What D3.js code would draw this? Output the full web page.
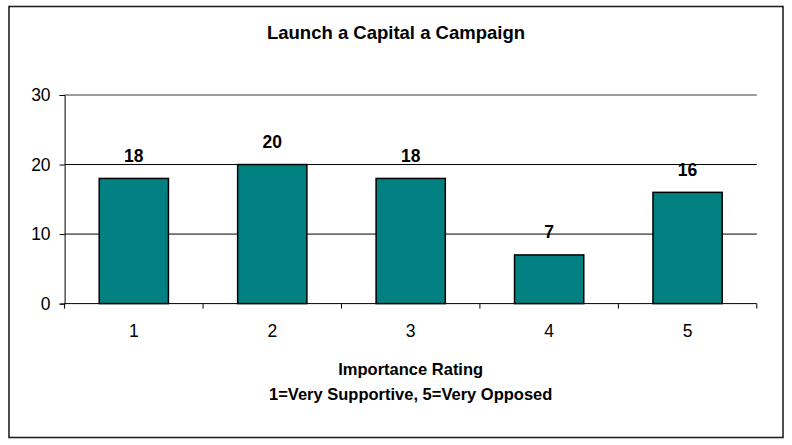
<!DOCTYPE html>
<html>
<head>
<meta charset="utf-8">
<script src="https://cdn.jsdelivr.net/npm/d3@7"></script>
<style>
  html, body { margin: 0; padding: 0; background: #fff; }
  svg { display: block; font-family: "Liberation Sans", Arial, sans-serif; }
</style>
</head>
<body>
<svg id="chart" width="792" height="445"></svg>
<script>
const categories = ["1", "2", "3", "4", "5"];
const values = [18, 20, 18, 7, 16];
const yTicks = [0, 10, 20, 30];
const titleText = "Launch a Capital a Campaign";
const xTitleLines = ["Importance Rating", "1=Very Supportive, 5=Very Opposed"];

const svg = d3.select("#chart");
const plot = { left: 64.6, right: 756.8, top: 95, bottom: 303.6 };

svg.append("rect")
  .attr("x", 9).attr("y", 6.5).attr("width", 774).attr("height", 431)
  .attr("fill", "#fff").attr("stroke", "#222").attr("stroke-width", 1.6);

const x = d3.scaleBand().domain(categories).range([plot.left, plot.right]).paddingInner(0.5).paddingOuter(0.25);
const xb = d3.scaleBand().domain(categories).range([plot.left, plot.right]).padding(0);
const y = d3.scaleLinear().domain([0, 30]).range([plot.bottom, plot.top]);

// gridlines
svg.append("g").selectAll("line").data(yTicks.filter(d => d > 0)).join("line")
  .attr("x1", plot.left).attr("x2", plot.right)
  .attr("y1", d => y(d)).attr("y2", d => y(d))
  .attr("stroke", d => d === 30 ? "#7a7a7a" : "#000")
  .attr("stroke-width", d => d === 30 ? 1.5 : 1);

// bars
svg.append("g").selectAll("rect").data(values).join("rect")
  .attr("x", (d, i) => x(categories[i]))
  .attr("y", d => y(d))
  .attr("width", x.bandwidth())
  .attr("height", d => y(0) - y(d))
  .attr("fill", "#008080")
  .attr("stroke", "#000").attr("stroke-width", 1.5);

// y axis
const yAxis = d3.axisLeft(y).tickValues(yTicks).tickSize(5).tickPadding(9);
const gy = svg.append("g").attr("transform", `translate(${plot.left},0)`).call(yAxis);
gy.select(".domain").attr("stroke", "#000");
gy.selectAll(".tick line").attr("stroke", "#000");
gy.selectAll(".tick text").attr("font-size", 17.5).attr("fill", "#000")
  .attr("font-family", "Liberation Sans, Arial, sans-serif");

// x axis: line + boundary ticks
svg.append("line").attr("x1", plot.left).attr("x2", plot.right)
  .attr("y1", plot.bottom).attr("y2", plot.bottom).attr("stroke", "#000").attr("stroke-width", 1);
const bounds = categories.map(c => xb(c)).concat([plot.right]);
svg.append("g").selectAll("line").data(bounds).join("line")
  .attr("x1", d => d).attr("x2", d => d)
  .attr("y1", plot.bottom).attr("y2", plot.bottom + 5)
  .attr("stroke", "#000");
svg.append("g").selectAll("text").data(categories).join("text")
  .attr("x", d => xb(d) + xb.bandwidth() / 2)
  .attr("y", 337)
  .attr("text-anchor", "middle")
  .attr("font-size", 17.5)
  .text(d => d);

// value labels
svg.append("g").selectAll("text").data(values).join("text")
  .attr("x", (d, i) => x(categories[i]) + x.bandwidth() / 2)
  .attr("y", d => y(d) - 16.8)
  .attr("text-anchor", "middle")
  .attr("font-size", 17.5).attr("font-weight", "bold")
  .text(d => d);

// title
svg.append("text").attr("x", 396).attr("y", 39.4)
  .attr("text-anchor", "middle").attr("font-size", 18.5).attr("font-weight", "bold")
  .text(titleText);

// x axis title
svg.append("g").selectAll("text").data(xTitleLines).join("text")
  .attr("x", (plot.left + plot.right) / 2)
  .attr("y", (d, i) => 375 + i * 25)
  .attr("text-anchor", "middle").attr("font-size", 16.5).attr("font-weight", "bold")
  .text(d => d);
</script>
</body>
</html>
